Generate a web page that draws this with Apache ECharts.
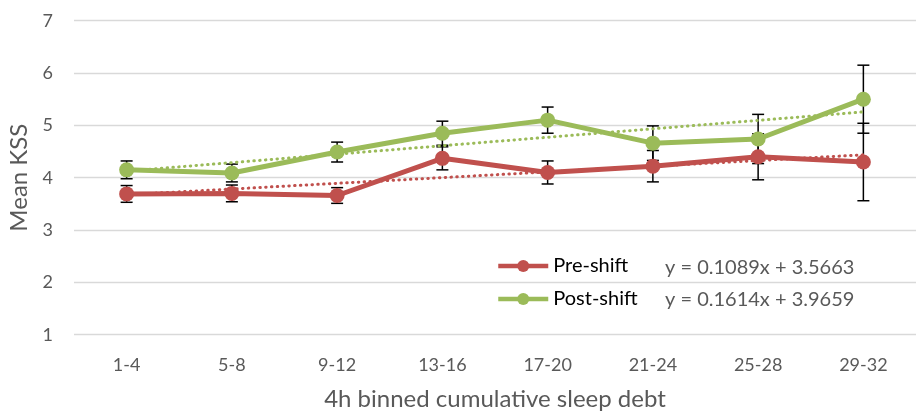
<!DOCTYPE html>
<html>
<head>
<meta charset="utf-8">
<script src="https://cdn.jsdelivr.net/npm/echarts@6/dist/echarts.min.js"></script>
<style>
html,body{margin:0;padding:0;background:#fff;}
#chart{width:919px;height:411px;}
</style>
</head>
<body>
<div id="chart"></div>
<script>
var categories = ['1-4','5-8','9-12','13-16','17-20','21-24','25-28','29-32'];
var yTicks = [1,2,3,4,5,6,7];
var preShift = [3.69, 3.70, 3.66, 4.37, 4.10, 4.22, 4.40, 4.30];
var postShift = [4.15, 4.09, 4.49, 4.85, 5.10, 4.66, 4.74, 5.50];
var preErr = [0.16, 0.16, 0.15, 0.22, 0.22, 0.30, 0.44, 0.74];
var postErr = [0.17, 0.17, 0.19, 0.23, 0.25, 0.33, 0.47, 0.65];
var preTrend = [3.675, 4.437];
var postTrend = [4.127, 5.257];
var seriesNames = ['Pre-shift','Post-shift'];
var equations = ['y = 0.1089x + 3.5663','y = 0.1614x + 3.9659'];

var RED = '#C0504D', GREEN = '#9BBB59';
var FONT = 'Lato, "Open Sans", sans-serif';

function errData(vals, errs){
  return vals.map(function(v,i){ return [i, v - errs[i], v + errs[i]]; });
}
function errRender(params, api){
  var x = api.value(0);
  var lo = api.coord([x, api.value(1)]);
  var hi = api.coord([x, api.value(2)]);
  var w = 6;
  var st = {stroke:'#000', lineWidth:1.5};
  return {type:'group', children:[
    {type:'line', shape:{x1:lo[0],y1:lo[1],x2:hi[0],y2:hi[1]}, style:st},
    {type:'line', shape:{x1:lo[0]-w,y1:lo[1],x2:lo[0]+w,y2:lo[1]}, style:st},
    {type:'line', shape:{x1:hi[0]-w,y1:hi[1],x2:hi[0]+w,y2:hi[1]}, style:st}
  ]};
}
var lastIdx = categories.length - 1;

var chart = echarts.init(document.getElementById('chart'), null, {renderer:'canvas'});
chart.setOption({
  animation:false,
  textStyle:{fontFamily:FONT},
  grid:{left:74, right:3, top:20.7, bottom:76.3, containLabel:false, outerBoundsMode:'none'},
  legend:{
    data:seriesNames,
    orient:'vertical', left:491, top:251,
    itemWidth:50, itemHeight:15, itemGap:13,
    textStyle:{fontFamily:FONT, fontSize:20, color:'#000'},
    lineStyle:{width:4.5},
    selectedMode:false
  },
  graphic:[
    {type:'text', left:665, top:258, style:{text:equations[0], fontFamily:FONT, fontSize:20, fill:'#595959'}},
    {type:'text', left:665, top:290, style:{text:equations[1], fontFamily:FONT, fontSize:20, fill:'#595959'}}
  ],
  xAxis:{
    type:'category', data:categories, boundaryGap:true,
    axisLine:{show:false}, axisTick:{show:false},
    axisLabel:{fontFamily:FONT, fontSize:18, color:'#595959', margin:21},
    name:'4h binned cumulative sleep debt', nameLocation:'middle', nameGap:53,
    nameTextStyle:{fontFamily:FONT, fontSize:24, color:'#595959'}
  },
  yAxis:{
    type:'value', min:yTicks[0], max:yTicks[yTicks.length-1], interval:1,
    axisLine:{show:false}, axisTick:{show:false},
    splitLine:{lineStyle:{color:'#D9D9D9', width:1.3}},
    axisLabel:{fontFamily:FONT, fontSize:18, color:'#595959', margin:21},
    name:'Mean KSS', nameLocation:'middle', nameGap:41,
    nameTextStyle:{fontFamily:FONT, fontSize:24, color:'#595959'}
  },
  series:[
    {type:'custom', name:'preErr', renderItem:errRender, data:errData(preShift, preErr), z:1, silent:true},
    {type:'custom', name:'postErr', renderItem:errRender, data:errData(postShift, postErr), z:1, silent:true},
    {type:'line', name:'preTrend', data:[[0, preTrend[0]],[lastIdx, preTrend[1]]], showSymbol:false, symbol:'none', z:2, silent:true,
      lineStyle:{color:RED, width:3, type:[0.5,5.3], cap:'round'}},
    {type:'line', name:'postTrend', data:[[0, postTrend[0]],[lastIdx, postTrend[1]]], showSymbol:false, symbol:'none', z:2, silent:true,
      lineStyle:{color:GREEN, width:3, type:[0.5,5.3], cap:'round'}},
    {type:'line', name:seriesNames[0], data:preShift, symbol:'circle', symbolSize:15, z:3,
      itemStyle:{color:RED}, lineStyle:{color:RED, width:5}},
    {type:'line', name:seriesNames[1], data:postShift, symbol:'circle', symbolSize:15, z:3,
      itemStyle:{color:GREEN}, lineStyle:{color:GREEN, width:5}}
  ]
});
</script>
</body>
</html>
